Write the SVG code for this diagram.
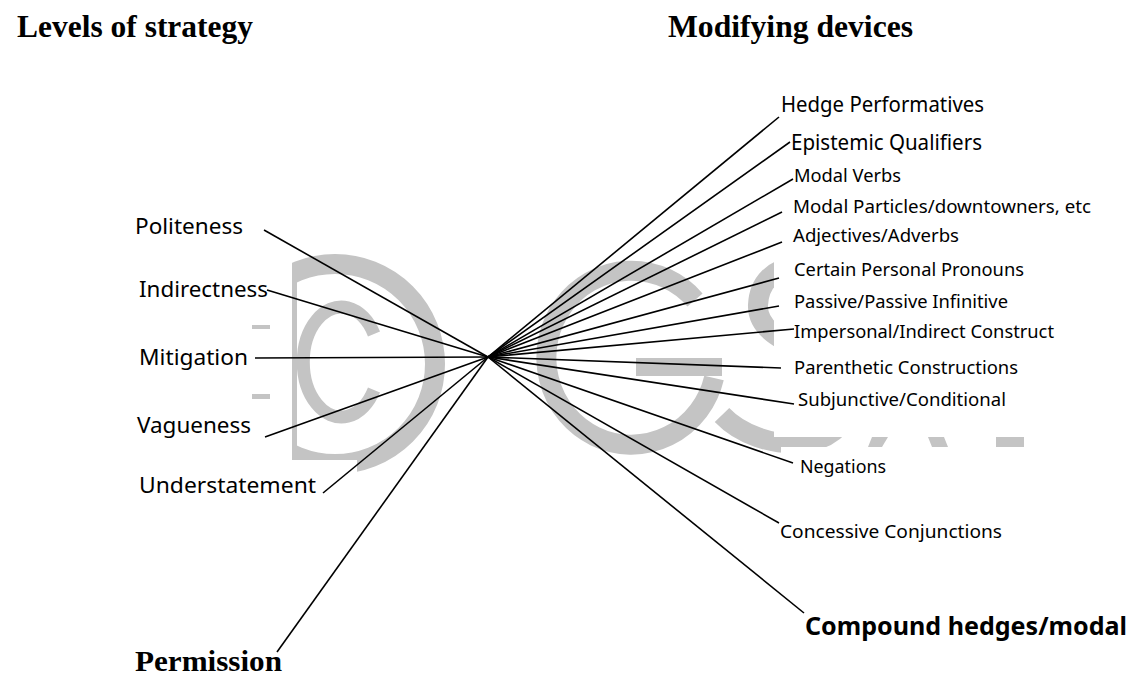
<svg xmlns="http://www.w3.org/2000/svg" width="1131" height="677" viewBox="0 0 1131 677">
<style>
.wm{fill:none;stroke:#c4c4c4}
.wmf{fill:#c4c4c4}
.mask{fill:#fff}
.conn line{stroke:#000;stroke-width:1.6;stroke-linecap:butt}
.title{font-family:"Liberation Serif","Times New Roman",serif;font-weight:bold;font-size:32px;fill:#000}
.lbl{font-family:"Noto Sans","Open Sans",sans-serif;fill:#000}
.left{font-size:22px}
.big{font-size:21px}
.sm{font-size:18.5px}
.bold{font-weight:bold;font-size:25px}
</style>
<rect width="1131" height="677" fill="#fff"/>
<g id="watermark">
  <circle class="wm" cx="335" cy="364" r="100" stroke-width="20"/>
  <path class="wm" d="M374 334 A38 55 0 1 0 374 390" stroke-width="13"/>
  <path class="wm" d="M695 300 A85 87 0 1 0 714 378" stroke-width="20"/>
  <rect class="wmf" x="636" y="358" width="86" height="18"/>
  <path class="wm" d="M850 288 C820 255 760 258 758 305 C756 350 848 350 848 400 C848 455 760 455 722 415" stroke-width="20"/>
  <rect class="mask" x="150" y="230" width="142" height="232"/>
  <rect class="mask" x="150" y="460" width="207" height="40"/>
  <rect class="wmf" x="292" y="265" width="5" height="195"/>
  <rect class="wmf" x="252" y="325" width="18" height="4"/>
  <rect class="wmf" x="252" y="394" width="18" height="5"/>
  <rect class="mask" x="774" y="255" width="360" height="182"/>
  <rect class="mask" x="781" y="447" width="350" height="60"/>
  <polygon class="wmf" points="872,437 888,437 882,447 868,447"/>
  <polygon class="wmf" points="928,437 944,437 948,447 932,447"/>
  <rect class="wmf" x="996" y="437" width="28" height="10"/>
</g>
<g id="connectors" class="conn">
  <line x1="264" y1="230" x2="488" y2="357"/>
  <line x1="267" y1="290" x2="488" y2="357"/>
  <line x1="255" y1="358" x2="488" y2="357"/>
  <line x1="265" y1="437" x2="488" y2="357"/>
  <line x1="323" y1="493" x2="488" y2="357"/>
  <line x1="277" y1="652" x2="488" y2="357"/>
  <line x1="488" y1="357" x2="779" y2="117"/>
  <line x1="488" y1="357" x2="790" y2="142"/>
  <line x1="488" y1="357" x2="793" y2="179"/>
  <line x1="488" y1="357" x2="782" y2="212"/>
  <line x1="488" y1="357" x2="782" y2="242"/>
  <line x1="488" y1="357" x2="779" y2="278"/>
  <line x1="488" y1="357" x2="779" y2="306"/>
  <line x1="488" y1="357" x2="794" y2="329"/>
  <line x1="488" y1="357" x2="781" y2="368"/>
  <line x1="488" y1="357" x2="794" y2="404"/>
  <line x1="488" y1="357" x2="793" y2="463"/>
  <line x1="488" y1="357" x2="779" y2="523"/>
  <line x1="488" y1="357" x2="804" y2="613"/>
</g>
<g id="title-levels"><text class="title" x="17" y="37" textLength="236" lengthAdjust="spacingAndGlyphs">Levels of strategy</text></g>
<g id="title-modifying"><text class="title" x="668" y="37" textLength="245" lengthAdjust="spacingAndGlyphs">Modifying devices</text></g>
<g id="node-politeness"><text class="lbl left" x="135" y="234" textLength="108" lengthAdjust="spacingAndGlyphs">Politeness</text></g>
<g id="node-indirectness"><text class="lbl left" x="139" y="297" textLength="129" lengthAdjust="spacingAndGlyphs">Indirectness</text></g>
<g id="node-mitigation"><text class="lbl left" x="139" y="365" textLength="109" lengthAdjust="spacingAndGlyphs">Mitigation</text></g>
<g id="node-vagueness"><text class="lbl left" x="137" y="433" textLength="114" lengthAdjust="spacingAndGlyphs">Vagueness</text></g>
<g id="node-understatement"><text class="lbl left" x="139" y="493" textLength="177" lengthAdjust="spacingAndGlyphs">Understatement</text></g>
<g id="node-permission"><text class="title" x="135" y="671" style="font-size:30px" textLength="147" lengthAdjust="spacingAndGlyphs">Permission</text></g>
<g id="node-hedge"><text class="lbl big" x="781" y="112" textLength="203" lengthAdjust="spacingAndGlyphs">Hedge Performatives</text></g>
<g id="node-epistemic"><text class="lbl big" x="791" y="150" textLength="191" lengthAdjust="spacingAndGlyphs">Epistemic Qualifiers</text></g>
<g id="node-modal-verbs"><text class="lbl sm" x="794" y="182" textLength="107" lengthAdjust="spacingAndGlyphs">Modal Verbs</text></g>
<g id="node-modal-particles"><text class="lbl sm" x="793" y="213" textLength="298" lengthAdjust="spacingAndGlyphs">Modal Particles/downtowners, etc</text></g>
<g id="node-adjectives"><text class="lbl sm" x="793" y="242" textLength="166" lengthAdjust="spacingAndGlyphs">Adjectives/Adverbs</text></g>
<g id="node-pronouns"><text class="lbl sm" x="794" y="276" textLength="230" lengthAdjust="spacingAndGlyphs">Certain Personal Pronouns</text></g>
<g id="node-passive"><text class="lbl sm" x="794" y="308" textLength="214" lengthAdjust="spacingAndGlyphs">Passive/Passive Infinitive</text></g>
<g id="node-impersonal"><text class="lbl sm" x="794" y="338" textLength="260" lengthAdjust="spacingAndGlyphs">Impersonal/Indirect Construct</text></g>
<g id="node-parenthetic"><text class="lbl sm" x="794" y="374" textLength="224" lengthAdjust="spacingAndGlyphs">Parenthetic Constructions</text></g>
<g id="node-subjunctive"><text class="lbl sm" x="798" y="406" textLength="208" lengthAdjust="spacingAndGlyphs">Subjunctive/Conditional</text></g>
<g id="node-negations"><text class="lbl sm" x="800" y="473" textLength="86" lengthAdjust="spacingAndGlyphs">Negations</text></g>
<g id="node-concessive"><text class="lbl sm" x="780" y="538" textLength="222" lengthAdjust="spacingAndGlyphs">Concessive Conjunctions</text></g>
<g id="node-compound"><text class="lbl bold" x="805" y="635" textLength="322" lengthAdjust="spacingAndGlyphs">Compound hedges/modal</text></g>
</svg>
